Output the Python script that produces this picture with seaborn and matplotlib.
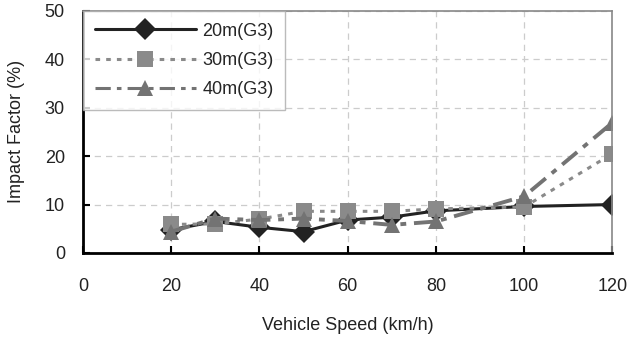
import numpy as np
import pandas as pd
import matplotlib
matplotlib.use("Agg")
import matplotlib.pyplot as plt
import seaborn as sns

# --- Data ---
speeds = [20, 30, 40, 50, 60, 70, 80, 100, 120]
series_names = ["20m(G3)", "30m(G3)", "40m(G3)"]
impact_20m = [4.8, 6.5, 5.3, 4.4, 6.8, 7.4, 8.7, 9.6, 10.0]
impact_30m = [5.9, 6.0, 7.0, 8.6, 8.6, 8.6, 9.1, 9.5, 20.5]
impact_40m = [4.4, 7.1, 6.8, 7.1, 6.6, 5.8, 6.5, 11.7, 26.9]

df = pd.DataFrame({
    "Vehicle Speed (km/h)": speeds * 3,
    "Impact Factor (%)": impact_20m + impact_30m + impact_40m,
    "series": [s for s in series_names for _ in speeds],
})

sns.set_theme(style="white")
plt.rcParams["font.family"] = ["Liberation Sans", "DejaVu Sans"]

fig = plt.figure(figsize=(6.31, 3.40), dpi=100)
ax = fig.add_axes([0.1315, 0.256, 0.839, 0.712])

palette = {"20m(G3)": "#222222", "30m(G3)": "#8a8a8a", "40m(G3)": "#737373"}
markers = {"20m(G3)": "D", "30m(G3)": "s", "40m(G3)": "^"}
dashes = {"20m(G3)": "", "30m(G3)": (1.5, 2.0), "40m(G3)": (5, 2.0, 1.5, 2.0)}

sns.lineplot(
    data=df, x="Vehicle Speed (km/h)", y="Impact Factor (%)",
    hue="series", style="series", palette=palette, markers=markers,
    dashes=dashes, linewidth=2.2, markersize=11, markeredgewidth=0,
    ax=ax,
)
# thicker dash-dot line for the 40m series
ax.lines[2].set_linewidth(2.8)
ax.lines[1].set_markersize(12)
ax.lines[2].set_markersize(12)

ax.set_xlim(0, 120)
ax.set_ylim(0, 50)
ax.set_xticks([0, 20, 40, 60, 80, 100, 120])
ax.set_yticks([0, 10, 20, 30, 40, 50])
ax.grid(True, color="#cccccc", linestyle=(0, (5, 4)), linewidth=0.9)
ax.tick_params(direction="in", length=5, width=1.5, colors="black",
               labelsize=13, bottom=True, left=True)
ax.tick_params(axis="x", pad=18)
ax.tick_params(axis="y", pad=13)
ax.tick_params(labelcolor="#222222")

for side in ["left", "bottom"]:
    ax.spines[side].set_color("black")
    ax.spines[side].set_linewidth(2)
for side in ["right", "top"]:
    ax.spines[side].set_color("#888888")
    ax.spines[side].set_linewidth(1.2)

ax.set_xlabel("Vehicle Speed (km/h)", fontsize=13, color="#222222", labelpad=16)
ax.set_ylabel("Impact Factor (%)", fontsize=13, color="#222222", labelpad=14)

leg = ax.legend(loc="upper left", fontsize=13, handlelength=5.6, frameon=True,
                fancybox=False, borderaxespad=0, borderpad=0.65,
                labelspacing=0.68, handletextpad=0.35)
leg.get_frame().set_edgecolor("#aaaaaa")
leg.get_frame().set_linewidth(1)
for h in leg.legend_handles:
    h.set_markersize(11)

fig.savefig("out.png", dpi=100)
